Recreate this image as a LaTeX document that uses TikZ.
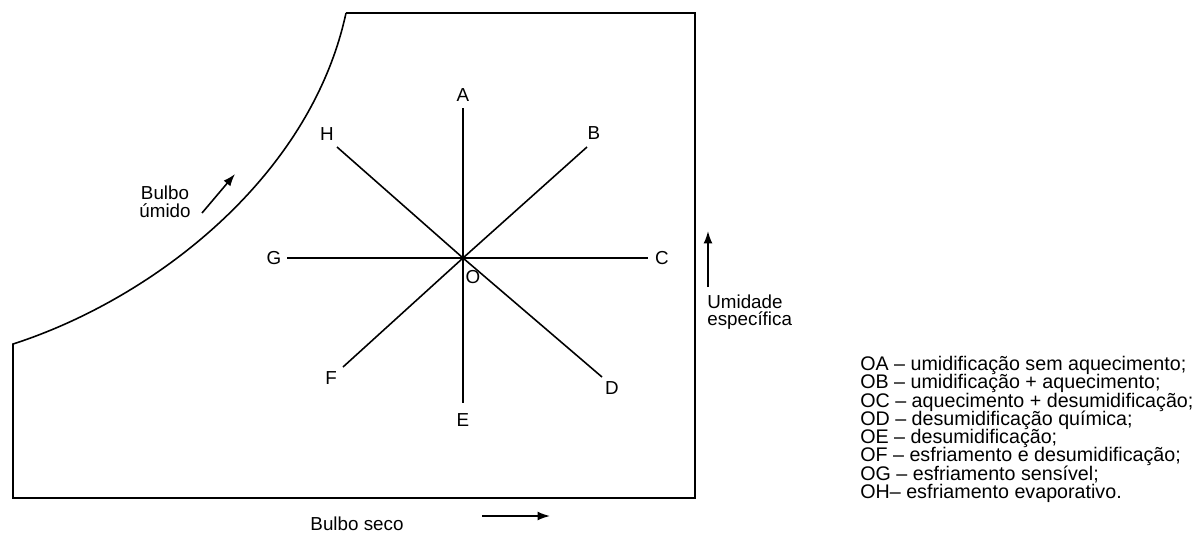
\documentclass[tikz,border=0pt]{standalone}
\usepackage{fontspec}
\setmainfont{Liberation Sans}
\usetikzlibrary{arrows.meta}

\begin{document}
\begin{tikzpicture}[
  x=0.02cm, y=-0.02cm,
  font=\fontsize{10.7}{10.4}\selectfont,
  linha/.style={line width=0.9pt},
  rot/.style={inner sep=1pt},
  seta/.style={line width=0.9pt, -{Latex[length=7pt, width=5pt]}},
  leg/.style={align=left, anchor=north west, inner sep=0pt}
]
\useasboundingbox (0,0) rectangle (1204,535);

\draw[linha] (346,13) -- (695,13) -- (695,498) -- (13,498) -- (13,344)
  .. controls (150,300) and (310,180) .. (346,13);

\coordinate (O) at (463,258);
\coordinate (a) at (463,108);
\coordinate (b) at (587,147);
\coordinate (c) at (648,258);
\coordinate (d) at (602,377);
\coordinate (e) at (463,403);
\coordinate (f) at (343,367);
\coordinate (g) at (287,258);
\coordinate (h) at (337,147);

\draw[linha] (O) -- (a);
\draw[linha] (O) -- (b);
\draw[linha] (O) -- (c);
\draw[linha] (O) -- (d);
\draw[linha] (O) -- (e);
\draw[linha] (O) -- (f);
\draw[linha] (O) -- (g);
\draw[linha] (O) -- (h);

\node[rot] (lA) at (463,95) {A};
\node[rot] (lB) at (594,133) {B};
\node[rot] (lC) at (662,258) {C};
\node[rot] (lD) at (612,388) {D};
\node[rot] (lE) at (463,420) {E};
\node[rot] (lF) at (331,378) {F};
\node[rot] (lG) at (274,258) {G};
\node[rot] (lH) at (327,134) {H};
\node[rot] (lO) at (473,277) {O};

\node[align=center, inner sep=0pt] (umido) at (165,202) {Bulbo\\úmido};
\coordinate (bu1) at (202,213);
\coordinate (bu2) at (235,174);
\draw[seta] (bu1) -- (bu2);

\coordinate (ue1) at (708,287);
\coordinate (ue2) at (708,231);
\draw[seta] (ue1) -- (ue2);
\node[leg, font=\fontsize{10.7}{9.2}\selectfont] (umid) at (707,295) {Umidade\\específica};

\node[inner sep=0pt] (seco) at (357,524) {Bulbo seco};
\coordinate (bs1) at (482,516);
\coordinate (bs2) at (550,516);
\draw[seta] (bs1) -- (bs2);

\node[leg, font={\fontsize{11.2}{10.4}\selectfont\lineskiplimit=-20pt\relax}] (legenda) at (860,356) {OA -- umidificação sem aquecimento;\\
OB -- umidificação + aquecimento;\\
OC -- aquecimento + desumidificação;\\
OD -- desumidificação química;\\
OE -- desumidificação;\\
OF -- esfriamento e desumidificação;\\
OG -- esfriamento sensível;\\
OH-- esfriamento evaporativo.};

\end{tikzpicture}
\end{document}
